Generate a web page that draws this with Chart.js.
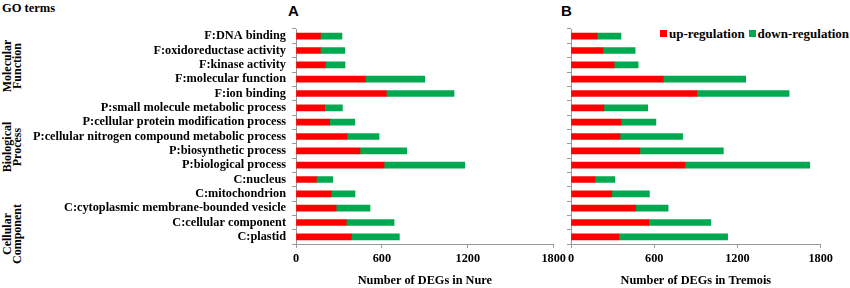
<!DOCTYPE html>
<html>
<head>
<meta charset="utf-8">
<script src="https://cdn.jsdelivr.net/npm/chart.js@4.4.1/dist/chart.umd.min.js"></script>
<style>
  body { margin: 0; width: 850px; height: 288px; position: relative; background: #fff; overflow: hidden;
         font-family: 'Liberation Serif', 'Times New Roman', serif; font-weight: bold; color: #000; }
  canvas { position: absolute; top: 0; }
  #cA { left: 0; }
  #cB { left: 560px; }
  .txt { position: absolute; white-space: nowrap; }
  .panel { font-family: 'Liberation Sans', Arial, sans-serif; font-size: 15px; }
  .grp { font-size: 12px; line-height: 10px; text-align: center; transform: translate(-50%, -50%) rotate(-90deg); }
  #legend { position: absolute; left: 660px; top: 26px; font-size: 13px; white-space: nowrap; }
  #legend span.sw { display: inline-block; width: 7px; height: 7px; margin: 0 2px 0 0; vertical-align: 1px; }
  #legend span.item { margin-right: 4px; }
</style>
</head>
<body>
<div class="txt" style="left:2px;top:1px;font-size:12.5px;">GO terms</div>
<div class="txt panel" style="left:288px;top:2px;">A</div>
<div class="txt panel" style="left:561px;top:2px;">B</div>
<div class="txt grp" style="left:12px;top:66px;">Molecular<br>Function</div>
<div class="txt grp" style="left:12px;top:147px;">Biological<br>Process</div>
<div class="txt grp" style="left:12px;top:234px;">Cellular<br>Component</div>
<div id="legend"></div>
<canvas id="cA" width="569" height="288"></canvas>
<canvas id="cB" width="276" height="288"></canvas>
<script>
// GO terms (top to bottom)
const terms = [
  'F:DNA binding',
  'F:oxidoreductase activity',
  'F:kinase activity',
  'F:molecular function',
  'F:ion binding',
  'P:small molecule metabolic process',
  'P:cellular protein modification process',
  'P:cellular nitrogen compound metabolic process',
  'P:biosynthetic process',
  'P:biological process',
  'C:nucleus',
  'C:mitochondrion',
  'C:cytoplasmic membrane-bounded vesicle',
  'C:cellular component',
  'C:plastid'
];

// Nure
const nureUp   = [170, 170, 205, 484, 631, 200, 235, 356, 447, 615, 142, 245, 280, 351, 386];
const nureDown = [151, 170, 137, 415, 473, 124, 175, 224, 326, 563, 114, 167, 237, 334, 336];

// Tremois
const tremoisUp   = [188, 230, 311, 664, 906, 237, 360, 353, 496, 821, 173, 294, 467, 560, 344];
const tremoisDown = [172, 232, 173, 595, 666, 316, 252, 451, 602, 900, 143, 271, 233, 448, 785];

const xTicks = [0, 600, 1200, 1800];
const seriesNames = ['up-regulation', 'down-regulation'];
const colors = ['#ff0000', '#00a84f'];

const font = { family: "'Liberation Serif', 'Times New Roman', serif", weight: 'bold', size: 12.3 };
const axisCol = '#9a9a9a';

function makeChart(id, up, down, title, showLabels, yWidth) {
  return new Chart(document.getElementById(id), {
    type: 'bar',
    data: {
      labels: terms,
      datasets: [
        { label: seriesNames[0], data: up, backgroundColor: colors[0], barThickness: 6 },
        { label: seriesNames[1], data: down, backgroundColor: colors[1], barThickness: 6 }
      ]
    },
    options: {
      indexAxis: 'y',
      responsive: false,
      animation: false,
      layout: { padding: { top: 29, bottom: 0, left: 0, right: 0 } },
      plugins: { legend: { display: false }, tooltip: { enabled: false } },
      scales: {
        x: {
          stacked: true, min: 0, max: 1800,
          afterBuildTicks: s => { s.ticks = xTicks.map(v => ({ value: v })); },
          afterFit: s => { s.height = 44; },
          grid: { drawOnChartArea: false, tickLength: 4, color: axisCol },
          border: { color: axisCol },
          ticks: { font: font, color: '#000', padding: 3, maxRotation: 0, callback: v => String(v) },
          title: { display: true, text: title, font: font, color: '#000', padding: 0 }
        },
        y: {
          stacked: true,
          afterFit: s => { s.width = yWidth; },
          grid: { drawOnChartArea: false, tickLength: 4, color: axisCol },
          border: { color: axisCol },
          ticks: { display: showLabels, font: font, color: '#000', padding: 6, autoSkip: false }
        }
      }
    }
  });
}

makeChart('cA', nureUp, nureDown, 'Number of DEGs in Nure', true, 296);
makeChart('cB', tremoisUp, tremoisDown, 'Number of DEGs in Tremois', false, 11);

// legend
const lg = document.getElementById('legend');
seriesNames.forEach((n, i) => {
  const it = document.createElement('span');
  it.className = 'item';
  it.innerHTML = '<span class="sw" style="background:' + colors[i] + '"></span>' + n;
  lg.appendChild(it);
});
</script>
</body>
</html>
